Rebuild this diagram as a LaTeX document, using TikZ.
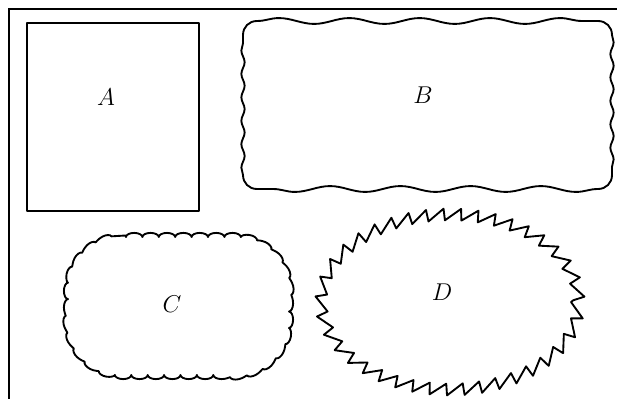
\documentclass[tikz,border=0pt]{standalone}
\usetikzlibrary{decorations.pathmorphing,decorations.pathreplacing}
\begin{document}
\begin{tikzpicture}[x=0.03cm,y=-0.03cm,
    contorno/.style={line width=1.6pt,line join=round,line cap=round},
    ondaH/.style={decoration={snake, segment length=60pt, amplitude=2.5pt}},
    ondaV/.style={decoration={snake, segment length=20pt, amplitude=1.4pt}},
    rotulo/.style={font=\huge}]
        \useasboundingbox (0,0) rectangle (617,399);
        % moldura
        \draw[line width=1.2pt] (9,399) -- (9,9) -- (617,9);
        % figura A
        \draw[contorno] (27,23) rectangle (199,211);
        \node[rotulo] (rotA) at (106,97) {$A$};
        % figura B
        \draw[contorno] decorate[ondaH] {(257,21) -- (598,21)}
            .. controls (606,21) and (612,27) .. (612,35)
            decorate[ondaV] {-- (612,175)}
            .. controls (612,183) and (606,189) .. (598,189)
            decorate[ondaH] {-- (257,189)}
            .. controls (249,189) and (243,183) .. (243,175)
            decorate[ondaV] {-- (243,35)}
            .. controls (243,27) and (249,21) .. (257,21);
        \node[rotulo] (rotB) at (423,95) {$B$};
        % figura C
        \draw[contorno] decorate[decoration={bumps, segment length=28pt, amplitude=3.5pt}]
            {(126,237) -- (231,237) .. controls (264,237) and (289,262) .. (289,294)
            -- (289,318) .. controls (289,350) and (264,375) .. (231,375)
            -- (126,375) .. controls (93,375) and (68,350) .. (68,318)
            -- (68,294) .. controls (68,262) and (93,237) .. (126,237) -- cycle};
        \node[rotulo] (rotC) at (172,304) {$C$};
        % figura D
        \draw[contorno, decorate, decoration={saw, segment length=14pt, amplitude=10pt}] (450,302) ellipse (121 and 81);
        \node[rotulo] (rotD) at (442,292) {$D$};
    \end{tikzpicture}
\end{document}
